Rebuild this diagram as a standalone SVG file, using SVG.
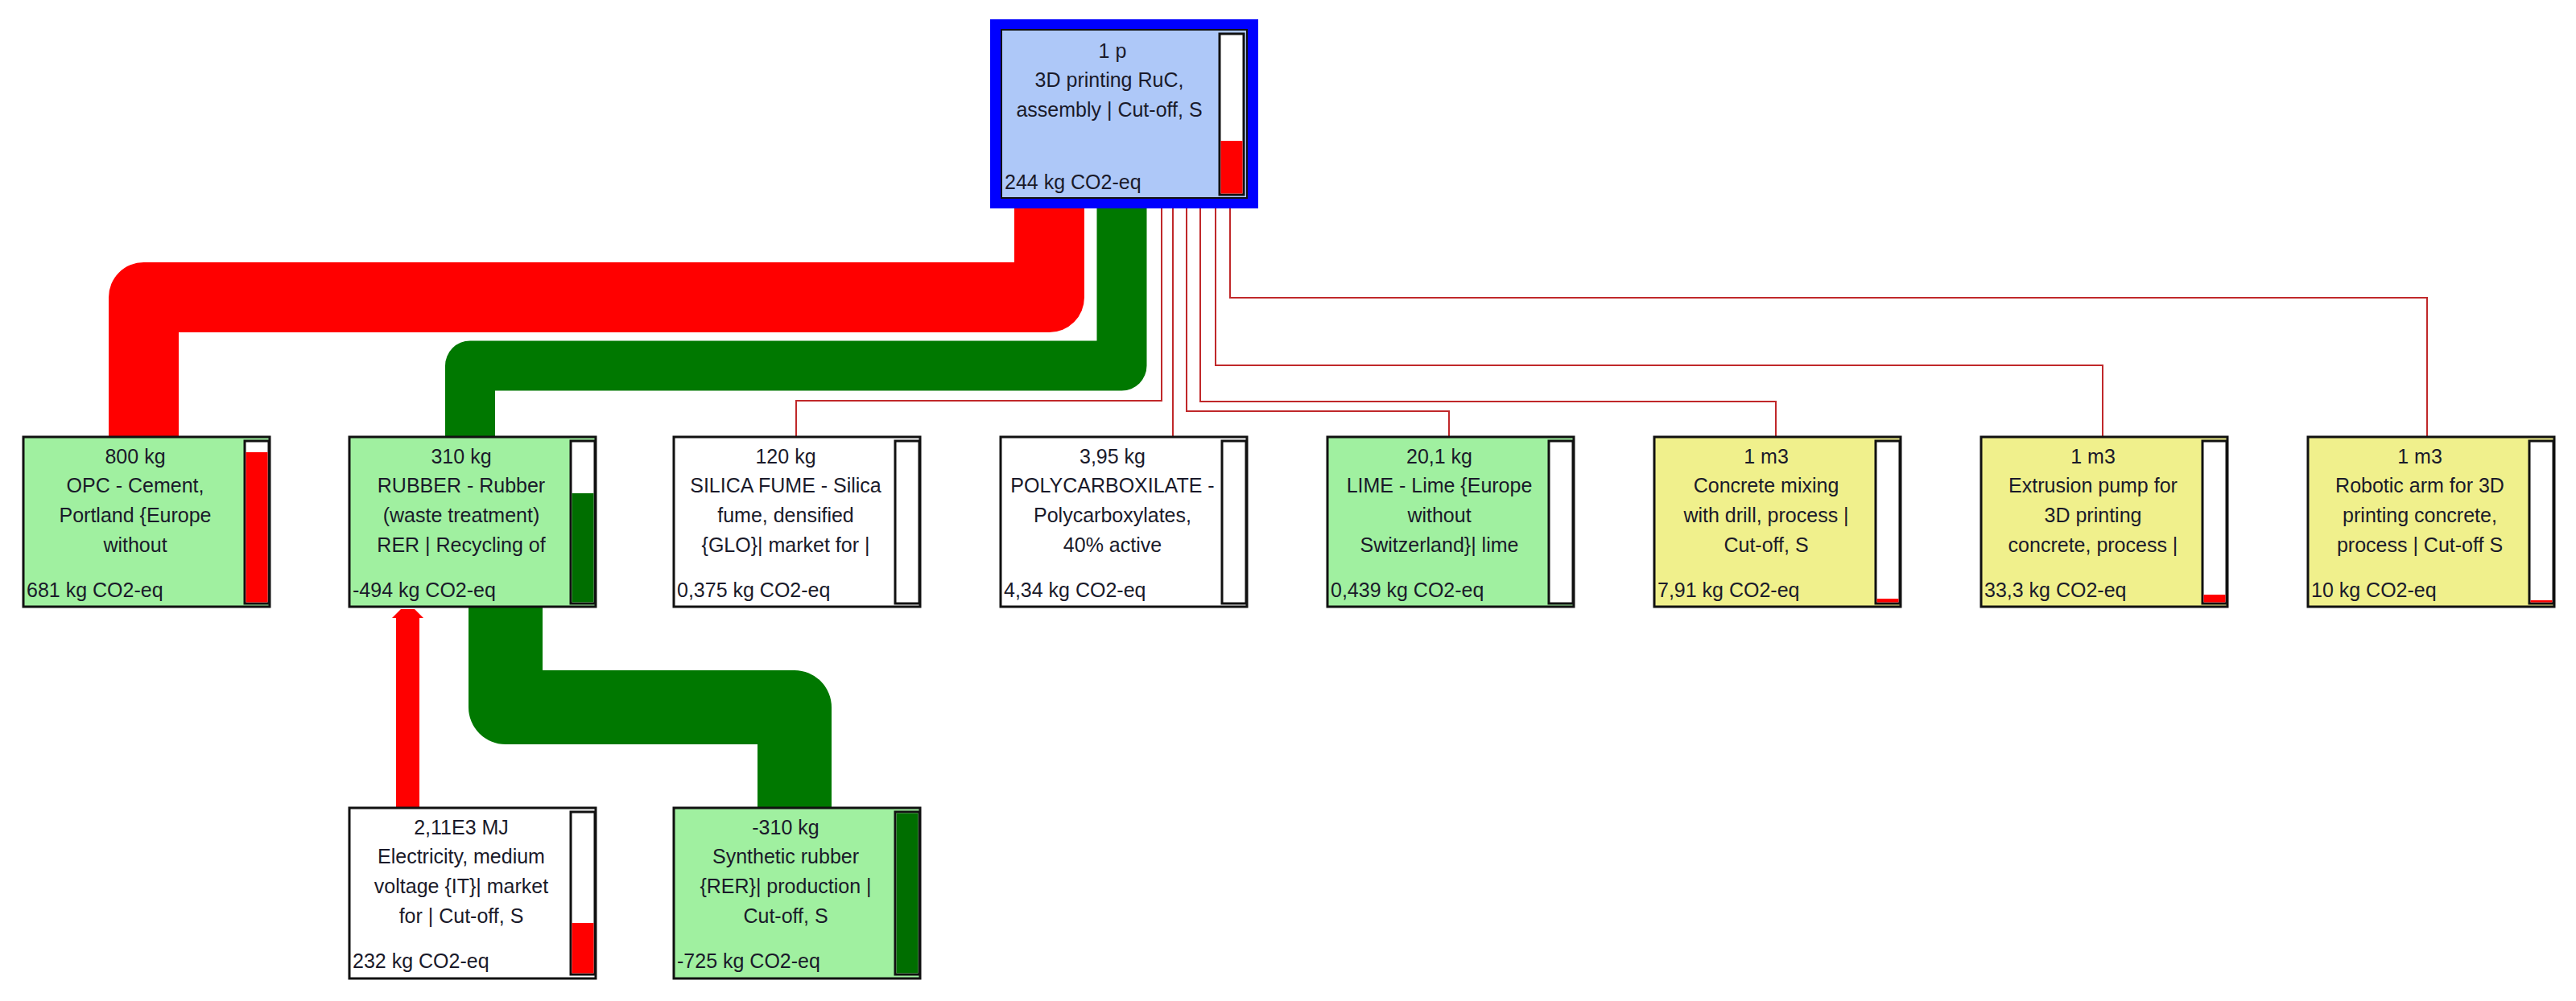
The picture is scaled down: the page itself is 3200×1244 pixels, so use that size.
<svg xmlns="http://www.w3.org/2000/svg" width="3200" height="1244" viewBox="0 0 3200 1244">
<style>
text{font-family:"Liberation Sans",Arial,sans-serif;font-size:25px;fill:#1a1a2a}
.c{text-anchor:middle}
.box{stroke:#111;stroke-width:3}
.g{fill:#a0f0a0}.w{fill:#fff}.y{fill:#f0f08c}
.bar{fill:#fff;stroke:#111;stroke-width:3}
.pipe{fill:none;stroke-linejoin:round}
.thin{fill:none;stroke:#c0282a;stroke-width:2}
</style>
<rect width="3200" height="1244" fill="#fff"/>
<g id="connectors">
<path class="pipe" d="M178.5,543 V369.5 H1303.5 V255" stroke="#ff0000" stroke-width="87"/>
<path class="pipe" d="M584,543 V454.5 H1393.5 V255" stroke="#007800" stroke-width="62"/>
<path class="pipe" d="M628,752 V879 H987 V1004" stroke="#007800" stroke-width="92"/>
<rect x="492" y="768" width="29" height="236" fill="#ff0000"/>
<polygon points="487,768 526,768 515,757 498,757" fill="#ff0000"/>
<path class="thin" d="M1443,259 V498 H989 V543"/>
<path class="thin" d="M1457,259 V543"/>
<path class="thin" d="M1474,259 V511 H1800 V543"/>
<path class="thin" d="M1491,259 V499 H2206 V543"/>
<path class="thin" d="M1510,259 V454 H2612 V543" stroke-width="4.5"/>
<path class="thin" d="M1528,259 V370 H3015 V543"/>
</g>
<g id="top">
<rect x="1230" y="24" width="333" height="235" fill="#0000ff"/>
<rect x="1244" y="37" width="305" height="209" fill="#aec8f8" stroke="#111" stroke-width="2"/>
<rect class="bar" x="1515" y="42" width="30" height="200"/>
<rect x="1516.5" y="175" width="27" height="65.5" fill="#ff0000"/>
<text class="c" x="1382" y="72">1 p</text>
<text class="c" x="1378" y="108">3D printing RuC,</text>
<text class="c" x="1378" y="145">assembly | Cut-off, S</text>
<text x="1248" y="235">244 kg CO2-eq</text>
</g>
<g id="opc" transform="translate(29,543)">
<rect class="box g" width="306" height="211"/><rect class="bar" x="275" y="5" width="30" height="202"/><rect x="276.5" y="19" width="27" height="186.5" fill="#ff0000"/>
<text class="c" x="139" y="33">800 kg</text><text class="c" x="139" y="69">OPC - Cement,</text><text class="c" x="139" y="106">Portland {Europe</text><text class="c" x="139" y="143">without</text><text x="4" y="199">681 kg CO2-eq</text>
</g>
<g id="rubber" transform="translate(434,543)">
<rect class="box g" width="306" height="211"/><rect class="bar" x="275" y="5" width="30" height="202"/><rect x="276.5" y="70" width="27" height="135.5" fill="#006e00"/>
<text class="c" x="139" y="33">310 kg</text><text class="c" x="139" y="69">RUBBER - Rubber</text><text class="c" x="139" y="106">(waste treatment)</text><text class="c" x="139" y="143">RER | Recycling of</text><text x="4" y="199">-494 kg CO2-eq</text>
</g>
<g id="silica" transform="translate(837,543)">
<rect class="box w" width="306" height="211"/><rect class="bar" x="275" y="5" width="30" height="202"/>
<text class="c" x="139" y="33">120 kg</text><text class="c" x="139" y="69">SILICA FUME - Silica</text><text class="c" x="139" y="106">fume, densified</text><text class="c" x="139" y="143">{GLO}| market for |</text><text x="4" y="199">0,375 kg CO2-eq</text>
</g>
<g id="poly" transform="translate(1243,543)">
<rect class="box w" width="306" height="211"/><rect class="bar" x="275" y="5" width="30" height="202"/>
<text class="c" x="139" y="33">3,95 kg</text><text class="c" x="139" y="69">POLYCARBOXILATE -</text><text class="c" x="139" y="106">Polycarboxylates,</text><text class="c" x="139" y="143">40% active</text><text x="4" y="199">4,34 kg CO2-eq</text>
</g>
<g id="lime" transform="translate(1649,543)">
<rect class="box g" width="306" height="211"/><rect class="bar" x="275" y="5" width="30" height="202"/>
<text class="c" x="139" y="33">20,1 kg</text><text class="c" x="139" y="69">LIME - Lime {Europe</text><text class="c" x="139" y="106">without</text><text class="c" x="139" y="143">Switzerland}| lime</text><text x="4" y="199">0,439 kg CO2-eq</text>
</g>
<g id="concrete" transform="translate(2055,543)">
<rect class="box y" width="306" height="211"/><rect class="bar" x="275" y="5" width="30" height="202"/><rect x="276.5" y="201" width="27" height="4.5" fill="#ff0000"/>
<text class="c" x="139" y="33">1 m3</text><text class="c" x="139" y="69">Concrete mixing</text><text class="c" x="139" y="106">with drill, process |</text><text class="c" x="139" y="143">Cut-off, S</text><text x="4" y="199">7,91 kg CO2-eq</text>
</g>
<g id="extrusion" transform="translate(2461,543)">
<rect class="box y" width="306" height="211"/><rect class="bar" x="275" y="5" width="30" height="202"/><rect x="276.5" y="196" width="27" height="9.5" fill="#ff0000"/>
<text class="c" x="139" y="33">1 m3</text><text class="c" x="139" y="69">Extrusion pump for</text><text class="c" x="139" y="106">3D printing</text><text class="c" x="139" y="143">concrete, process |</text><text x="4" y="199">33,3 kg CO2-eq</text>
</g>
<g id="robotic" transform="translate(2867,543)">
<rect class="box y" width="306" height="211"/><rect class="bar" x="275" y="5" width="30" height="202"/><rect x="276.5" y="203" width="27" height="2.5" fill="#ff0000"/>
<text class="c" x="139" y="33">1 m3</text><text class="c" x="139" y="69">Robotic arm for 3D</text><text class="c" x="139" y="106">printing concrete,</text><text class="c" x="139" y="143">process | Cut-off S</text><text x="4" y="199">10 kg CO2-eq</text>
</g>
<g id="electricity" transform="translate(434,1004)">
<rect class="box w" width="306" height="212"/><rect class="bar" x="275" y="5" width="30" height="202"/><rect x="276.5" y="143" width="27" height="62.5" fill="#ff0000"/>
<text class="c" x="139" y="33">2,11E3 MJ</text><text class="c" x="139" y="69">Electricity, medium</text><text class="c" x="139" y="106">voltage {IT}| market</text><text class="c" x="139" y="143">for | Cut-off, S</text><text x="4" y="199">232 kg CO2-eq</text>
</g>
<g id="synthetic" transform="translate(837,1004)">
<rect class="box g" width="306" height="212"/><rect class="bar" x="275" y="5" width="30" height="202"/><rect x="276.5" y="6.5" width="27" height="199" fill="#006e00"/>
<text class="c" x="139" y="33">-310 kg</text><text class="c" x="139" y="69">Synthetic rubber</text><text class="c" x="139" y="106">{RER}| production |</text><text class="c" x="139" y="143">Cut-off, S</text><text x="4" y="199">-725 kg CO2-eq</text>
</g>
</svg>
